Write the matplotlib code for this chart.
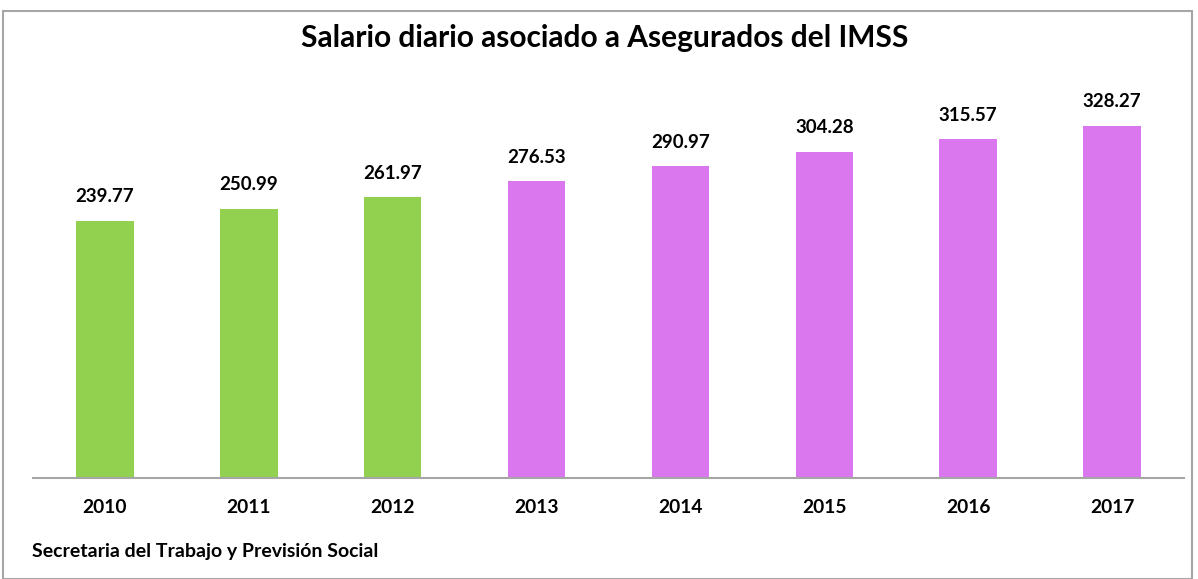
import matplotlib
matplotlib.use("Agg")
import matplotlib.pyplot as plt
from matplotlib.patches import Rectangle

years = ["2010", "2011", "2012", "2013", "2014", "2015", "2016", "2017"]
salario = [239.77, 250.99, 261.97, 276.53, 290.97, 304.28, 315.57, 328.27]
colores = ["#92D050"] * 3 + ["#DB77EE"] * 5

plt.rcParams["font.family"] = ["Lato", "DejaVu Sans"]

W, H = 1198, 579
fig = plt.figure(figsize=(W / 100, H / 100), dpi=100)

# chart border
fig.patches.append(Rectangle((3 / W, 0), (1192 - 3) / W, 1 - 11 / H, transform=fig.transFigure,
                             fill=False, edgecolor="#A6A6A6", linewidth=1.5))

# axes: baseline at y=478px, x from 33 to 1184 px
ax_left, ax_right = 33 / W, 1184 / W
ax_bottom = 1 - 478 / H
ax_top = 1 - 80 / H
ax = fig.add_axes([ax_left, ax_bottom, ax_right - ax_left, ax_top - ax_bottom])

x = list(range(len(years)))
ax.bar(x, salario, width=0.4, color=colores)
ax.set_xlim(-0.5, len(years) - 0.5)
ax.set_ylim(0, (478 - 80) / 1.073)

for xi, v in zip(x, salario):
    ax.annotate(f"{v:.2f}", (xi, v), xytext=(0, 11), textcoords="offset points",
                ha="center", va="bottom", fontsize=13.5, fontweight="bold")

ax.set_xticks(x)
ax.set_xticklabels(years, fontsize=13.8, fontweight="bold")
ax.tick_params(axis="x", length=0, pad=15)
ax.set_yticks([])
for s in ["top", "right", "left"]:
    ax.spines[s].set_visible(False)
ax.spines["bottom"].set_color("#A6A6A6")
ax.spines["bottom"].set_linewidth(1.5)

fig.text(605 / W, 1 - 38 / H, "Salario diario asociado a Asegurados del IMSS",
         ha="center", va="center", fontsize=21.5, fontweight="bold")
fig.text(32 / W, 1 - 552 / H, "Secretaria del Trabajo y Previsión Social",
         ha="left", va="center", fontsize=14, fontweight="bold")

fig.savefig("out.png", dpi=100)
